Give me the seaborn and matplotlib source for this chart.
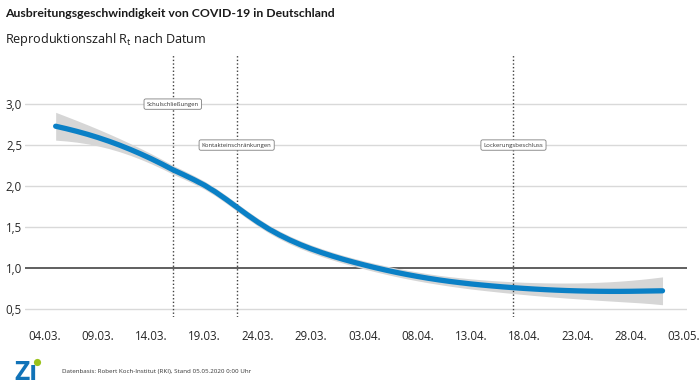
import numpy as np
import pandas as pd
import matplotlib
matplotlib.use("Agg")
import matplotlib.pyplot as plt
from matplotlib.patches import Circle
from matplotlib.transforms import IdentityTransform
import seaborn as sns

# ---- data ----
start_date = "2020-03-05"
r_values = [2.730, 2.700, 2.667, 2.631, 2.591, 2.547, 2.499, 2.447, 2.391, 2.331,
            2.267, 2.199, 2.139, 2.076, 2.008, 1.928, 1.838, 1.743, 1.648, 1.558,
            1.476, 1.404, 1.340, 1.283, 1.232, 1.186, 1.144, 1.105, 1.069, 1.035,
            1.003, 0.973, 0.945, 0.919, 0.895, 0.873, 0.853, 0.835, 0.819, 0.804,
            0.791, 0.779, 0.768, 0.758, 0.749, 0.741, 0.734, 0.728, 0.723, 0.719,
            0.716, 0.714, 0.713, 0.713, 0.714, 0.716, 0.718, 0.720]
half_width = [0.170, 0.150, 0.132, 0.116, 0.102, 0.090, 0.080, 0.072, 0.066, 0.061,
              0.057, 0.054, 0.052, 0.050, 0.049, 0.048, 0.048, 0.048, 0.048, 0.048,
              0.048, 0.048, 0.048, 0.048, 0.048, 0.048, 0.048, 0.048, 0.048, 0.049,
              0.050, 0.051, 0.052, 0.053, 0.054, 0.055, 0.056, 0.058, 0.060, 0.062,
              0.064, 0.066, 0.069, 0.072, 0.075, 0.079, 0.083, 0.087, 0.092, 0.097,
              0.103, 0.110, 0.117, 0.125, 0.134, 0.144, 0.156, 0.170]
tick_dates = ["2020-03-04", "2020-03-09", "2020-03-14", "2020-03-19", "2020-03-24",
              "2020-03-29", "2020-04-03", "2020-04-08", "2020-04-13", "2020-04-18",
              "2020-04-23", "2020-04-28", "2020-05-03"]
tick_labels = ["04.03.", "09.03.", "14.03.", "19.03.", "24.03.", "29.03.", "03.04.",
               "08.04.", "13.04.", "18.04.", "23.04.", "28.04.", "03.05."]
y_ticks = [0.5, 1.0, 1.5, 2.0, 2.5, 3.0]
y_tick_labels = ["0,5", "1,0", "1,5", "2,0", "2,5", "3,0"]
event_names = ["Schulschließungen", "Kontakteinschränkungen", "Lockerungsbeschluss"]
event_dates = ["2020-03-16", "2020-03-22", "2020-04-17"]
event_label_y = [3.0, 2.5, 2.5]

title = "Ausbreitungsgeschwindigkeit von COVID-19 in Deutschland"
subtitle = "Reproduktionszahl R$_\\mathregular{t}$ nach Datum"
source = "Datenbasis: Robert Koch-Institut (RKI), Stand 05.05.2020 0:00 Uhr"

# ---- style ----
sns.set_theme(style="white")
plt.rcParams['font.family'] = ['Open Sans', 'DejaVu Sans']
plt.rcParams['mathtext.fontset'] = 'custom'
plt.rcParams['mathtext.rm'] = 'Open Sans'
plt.rcParams['mathtext.it'] = 'Open Sans'

W, H = 700, 388
fig = plt.figure(figsize=(W / 100, H / 100), dpi=100)
ax_left, ax_right, ax_top, ax_bottom = 25, 687, 55, 317
ax = fig.add_axes([ax_left / W, 1 - ax_bottom / H, (ax_right - ax_left) / W, (ax_bottom - ax_top) / H])

dates = pd.date_range(start_date, periods=len(r_values), freq="D")
r = np.array(r_values)
hw = np.array(half_width)
df = pd.DataFrame({"Datum": dates, "R": r, "lo": r - hw, "hi": r + hw})

ax.fill_between(df["Datum"], df["lo"], df["hi"], color="#d6d6d6", lw=0, zorder=2)
sns.lineplot(data=df, x="Datum", y="R", ax=ax, color="#0a80c6", lw=3.8, zorder=4)

# gridlines
for v in y_ticks:
    if v == 1.0:
        ax.axhline(v, color="#5f5f5f", lw=1.4, zorder=1)
    else:
        ax.axhline(v, color="#d9d9d9", lw=1.0, zorder=1)

# events
for name, d, yv in zip(event_names, event_dates, event_label_y):
    dt = pd.Timestamp(d)
    ax.axvline(dt, color="#404040", lw=1.0, ls=(0, (1, 1.6)), zorder=3)
    ax.text(dt, yv, name, ha="center", va="center", fontsize=4.3, color="#333333", zorder=6,
            bbox=dict(boxstyle="round,pad=0.45,rounding_size=0.3", fc="white", ec="#808080", lw=0.6))

x0 = pd.Timestamp("2020-03-04")
ax.set_xlim(x0 - pd.Timedelta(days=1.88), x0 + pd.Timedelta(days=60.3))
ax.set_ylim(0.4, 3.6)
ax.set_xticks(pd.to_datetime(tick_dates))
ax.set_xticklabels(tick_labels)
ax.set_yticks(y_ticks)
ax.set_yticklabels(y_tick_labels)
ax.tick_params(axis="x", length=0, pad=9.5, labelsize=8.3, labelcolor="#262626")
ax.tick_params(axis="y", length=0, pad=2.2, labelsize=8.3, labelcolor="#262626")
ax.set_xlabel("")
ax.set_ylabel("")
for s in ax.spines.values():
    s.set_visible(False)
ax.grid(False)

# titles
fig.text(5 / W, 1 - 17 / H, title, fontsize=8.8, fontweight="bold", color="#1a1a1a",
         va="baseline", family=['Lato', 'Open Sans', 'DejaVu Sans'])
fig.text(5 / W, 1 - 42.5 / H, subtitle, fontsize=9.1, color="#1a1a1a", va="baseline")

# footer logo and source
fig.text(14 / W, 1 - 380 / H, "Z\u0131", fontsize=19, fontweight="bold", color="#1173b8", va="baseline")
fig.add_artist(Circle((37.5, H - 362.5), 3.6, transform=IdentityTransform(),
                      facecolor="#9bc31c", edgecolor="none"))
fig.text(62 / W, 1 - 372 / H, source, fontsize=4.5, color="#333333", va="center")

fig.savefig("out.png", dpi=100)
